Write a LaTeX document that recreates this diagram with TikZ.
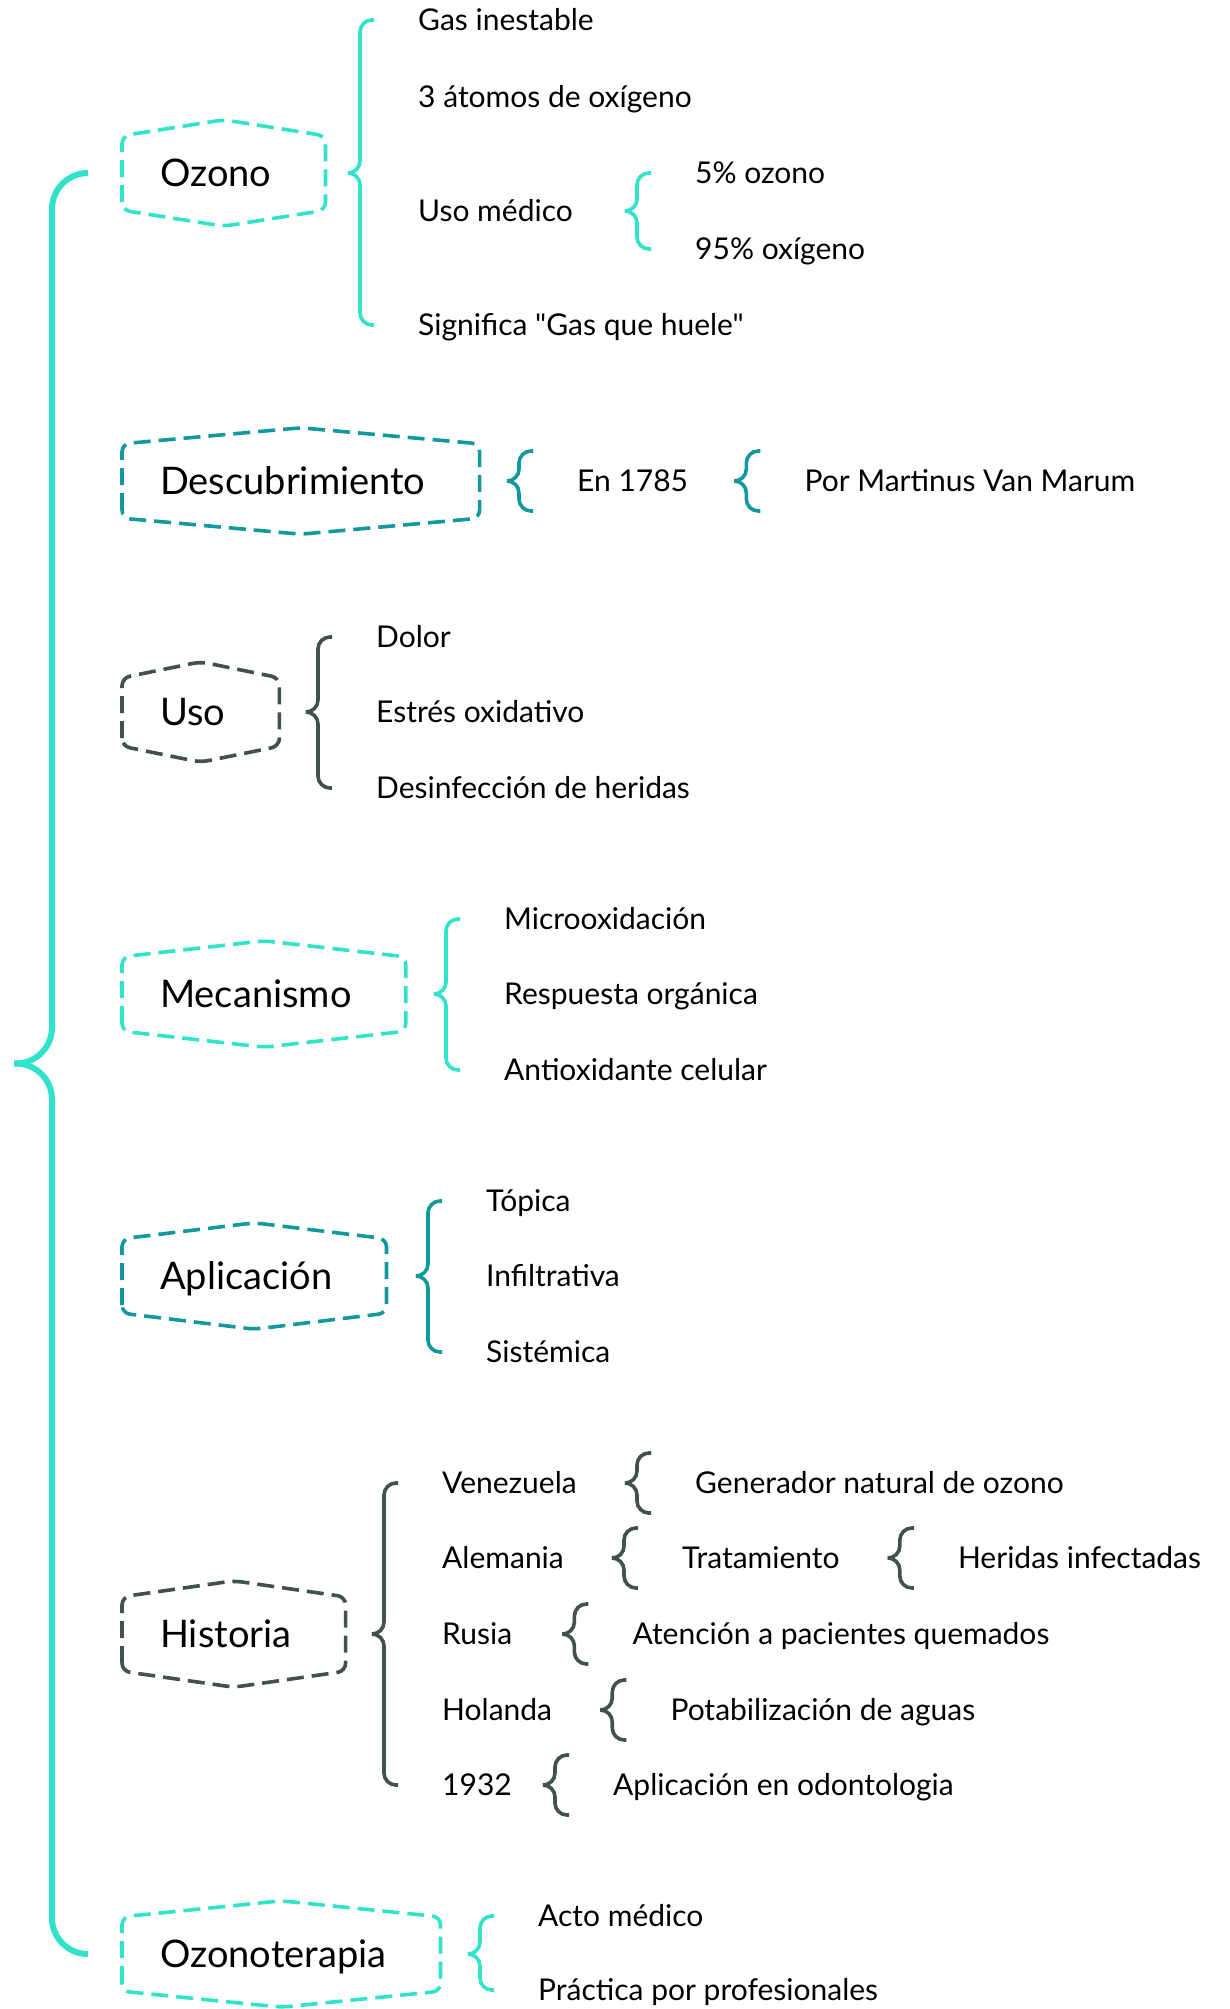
\documentclass[tikz,border=0pt]{standalone}
\usepackage{fontspec}
\setmainfont{Lato}[Ligatures=TeXOff]
\usetikzlibrary{positioning,calc}
\definecolor{mint}{HTML}{30E3CA}
\definecolor{sea}{HTML}{11999E}
\definecolor{slate}{HTML}{40514E}

\newcommand{\topicfont}{\fontsize{38}{42}\selectfont}
\newcommand{\itemfont}{\fontsize{30}{34}\selectfont}

% dashed frame round a topic node
\newcommand{\hexframe}[2]{%
  \draw[hexline, #2] ([xshift=-38]#1.south west) -- ([xshift=-38]#1.north west)
    -- ([xshift=8,yshift=16]#1.north) -- ([xshift=54]#1.north east)
    -- ([xshift=54]#1.south east) -- ([xshift=8,yshift=-16]#1.south) -- cycle;}
% brace from a parent to its first and last child
\newcommand{\topicbrace}[4]{%
  \draw[bracket, #1] ([xshift=-44]#2.west) -- ([xshift=-58]#2.west)
    -- ([xshift=-58]#2.west |- #3) -- ([xshift=-70]#2.west |- #3);
  \draw[bracket, #1] ([xshift=-44]#4.west) -- ([xshift=-58]#4.west)
    -- ([xshift=-58]#4.west |- #3) -- ([xshift=-70]#4.west |- #3);}
% small brace before a single child
\newcommand{\minibrace}[3]{%
  \draw[bracket, #1] ([xshift=-44,yshift=30]#3.west |- #2) -- ([xshift=-58,yshift=30]#3.west |- #2)
    -- ([xshift=-58]#3.west |- #2) -- ([xshift=-70]#3.west |- #2);
  \draw[bracket, #1] ([xshift=-44,yshift=-30]#3.west |- #2) -- ([xshift=-58,yshift=-30]#3.west |- #2)
    -- ([xshift=-58]#3.west |- #2) -- ([xshift=-70]#3.west |- #2);}

\tikzset{
  topic/.style={anchor=west, inner sep=0, font=\topicfont, minimum height=74, text height=34, text depth=7},
  item/.style={anchor=west, inner sep=0, font=\itemfont, text height=21.5, text depth=0},
  hexline/.style={line width=3.6, dash pattern=on 17 off 8, rounded corners=8},
  bracket/.style={line width=3.6, rounded corners=12},
  mainbrace/.style={mint, line width=6, rounded corners=36},
}

\begin{document}
\begin{tikzpicture}[x=1pt, y=1pt]
\useasboundingbox (0,0) rectangle (1229,-2009);

% topics
\node[topic] (oz) at (160,-173) {Ozono};
\node[topic] (ds) at (160,-481) {Descubrimiento};
\node[topic, minimum height=68] (us) at (160,-712) {Uso};
\node[topic] (mc) at (160,-994) {Mecanismo};
\node[topic] (ap) at (160,-1276) {Aplicación};
\node[topic] (hi) at (160,-1634) {Historia};
\node[topic] (ot) at (160,-1954) {Ozonoterapia};
\hexframe{oz}{mint}
\hexframe{ds}{sea}
\hexframe{us}{slate}
\hexframe{mc}{mint}
\hexframe{ap}{sea}
\hexframe{hi}{slate}
\hexframe{ot}{mint}

% big brace
\coordinate (mid) at ($(oz.west)!.5!(ot.west)$);
\draw[mainbrace] ([xshift=-72]oz.west) -- ([xshift=-108]oz.west)
  -- ([xshift=-108]oz.west |- mid) -- ([xshift=-146]oz.west |- mid);
\draw[mainbrace] ([xshift=-72]ot.west) -- ([xshift=-108]ot.west)
  -- ([xshift=-108]ot.west |- mid) -- ([xshift=-146]ot.west |- mid);

% Ozono
\node[item] (gas) at (418,-20) {Gas inestable};
\node[item] (atom) at (418,-97) {3 átomos de oxígeno};
\node[item] (umed) at (418,-211) {Uso médico};
\node[item] (sig) at (418,-325) {Significa "Gas que huele"};
\node[item] (pct5) at (695,-173) {5\% ozono};
\node[item] (pct95) at (695,-249) {95\% oxígeno};
\topicbrace{mint}{gas}{oz}{sig}
\topicbrace{mint}{pct5}{umed}{pct95}

% Descubrimiento
\node[item] (en) at (577,-481) {En 1785};
\node[item, right=116pt of en] (marum) {Por Martinus Van Marum};
\minibrace{sea}{ds}{en}
\minibrace{sea}{en}{marum}

% Uso
\node[item] (dolor) at (376,-637) {Dolor};
\node[item] (estres) at (376,-712) {Estrés oxidativo};
\node[item] (desinf) at (376,-788) {Desinfección de heridas};
\topicbrace{slate}{dolor}{us}{desinf}

% Mecanismo
\node[item] (micro) at (504,-919) {Microoxidación};
\node[item] (resp) at (504,-994) {Respuesta orgánica};
\node[item] (antiox) at (504,-1070) {Antioxidante celular};
\topicbrace{mint}{micro}{mc}{antiox}

% Aplicacion
\node[item] (topica) at (486,-1201) {Tópica};
\node[item] (infil) at (486,-1276) {Infiltrativa};
\node[item] (sistem) at (486,-1352) {Sistémica};
\topicbrace{sea}{topica}{ap}{sistem}

% Historia
\node[item] (vene) at (442,-1483) {Venezuela};
\node[item] (alem) at (442,-1558) {Alemania};
\node[item] (rusia) at (442,-1634) {Rusia};
\node[item] (holan) at (442,-1710) {Holanda};
\node[item] (y1932) at (442,-1785) {1932};
\node[item, right=118pt of vene] (gener) {Generador natural de ozono};
\node[item, right=118pt of alem] (tratam) {Tratamiento};
\node[item, right=118pt of tratam] (herid) {Heridas infectadas};
\node[item, right=120pt of rusia] (atenc) {Atención a pacientes quemados};
\node[item, right=118pt of holan] (potab) {Potabilización de aguas};
\node[item, right=101pt of y1932] (odont) {Aplicación en odontologia};
\topicbrace{slate}{vene}{hi}{y1932}
\minibrace{slate}{vene}{gener}
\minibrace{slate}{alem}{tratam}
\minibrace{slate}{tratam}{herid}
\minibrace{slate}{rusia}{atenc}
\minibrace{slate}{holan}{potab}
\minibrace{slate}{y1932}{odont}

% Ozonoterapia
\node[item] (acto) at (538,-1916) {Acto médico};
\node[item] (pract) at (538,-1990) {Práctica por profesionales};
\topicbrace{mint}{acto}{ot}{pract}
\end{tikzpicture}
\end{document}
